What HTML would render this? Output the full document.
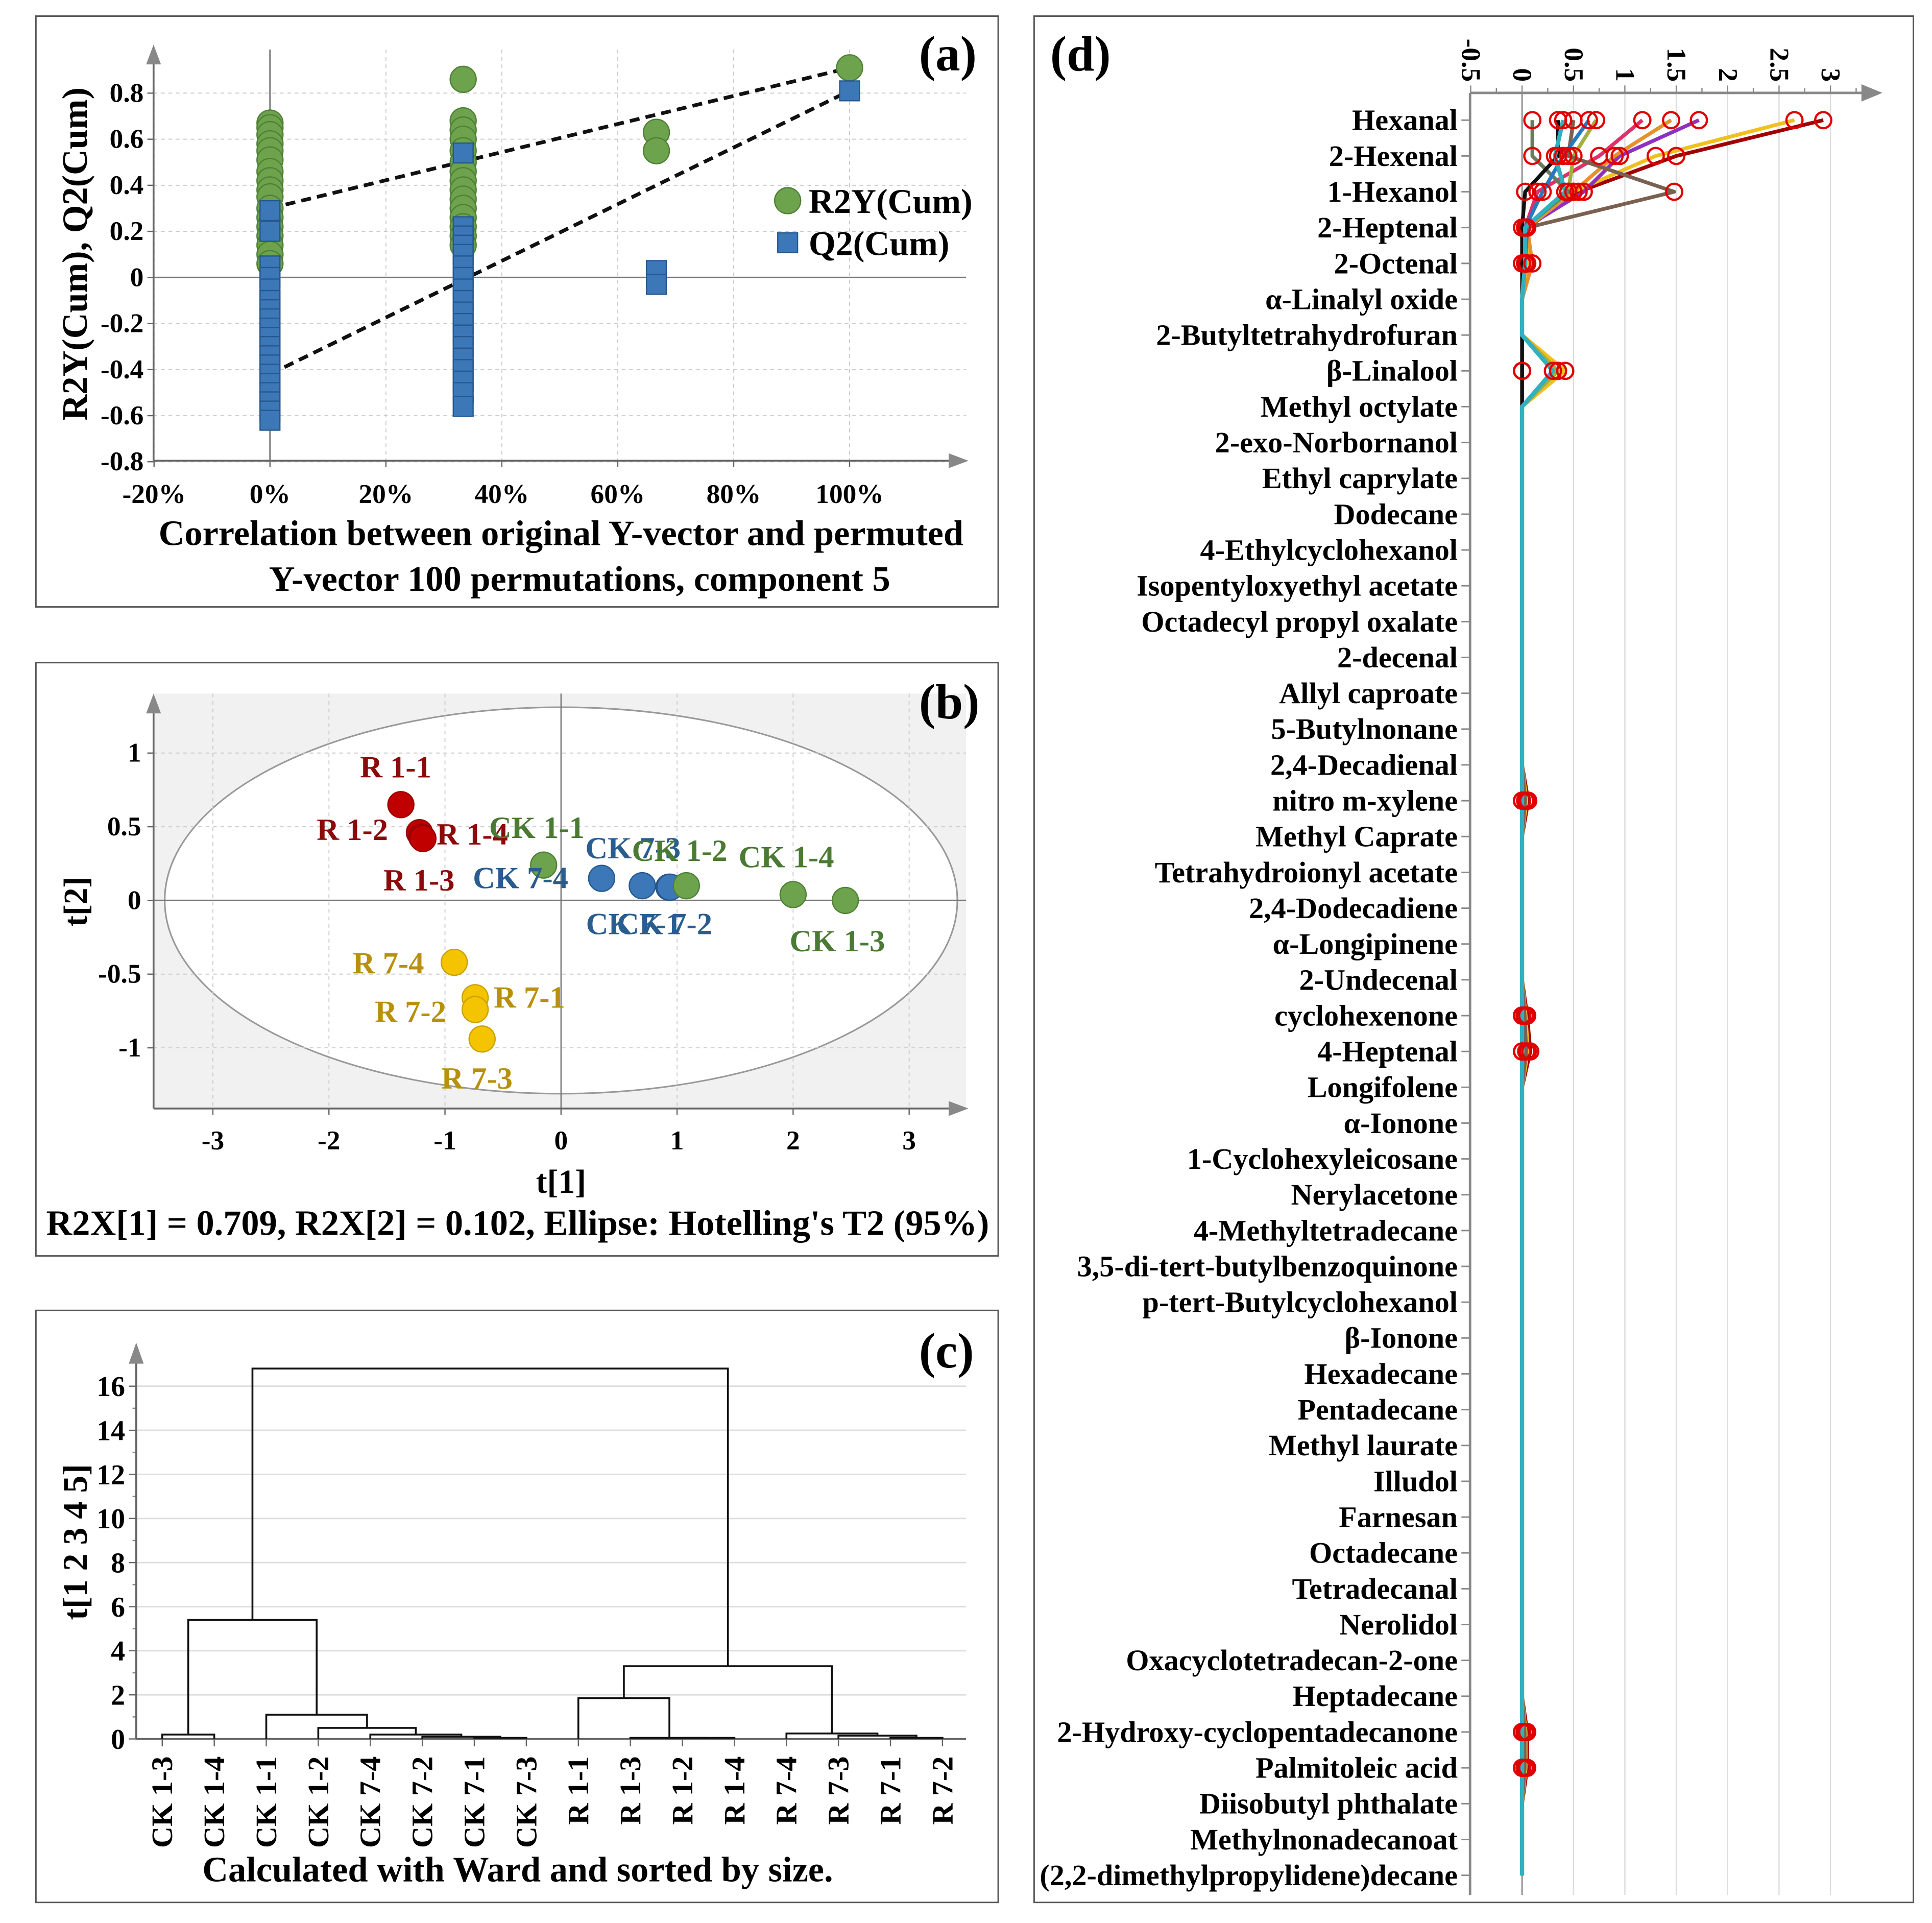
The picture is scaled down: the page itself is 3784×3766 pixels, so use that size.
<!DOCTYPE html>
<html><head><meta charset="utf-8"><style>
html,body{margin:0;padding:0;background:#fff;}
svg{display:block;}
text{font-family:"Liberation Serif",serif;font-weight:bold;}
</style></head><body>
<svg id="fig" width="3784" height="3766" viewBox="0 0 1560 1552.6" preserveAspectRatio="none" xmlns="http://www.w3.org/2000/svg">
<rect x="0" y="0" width="1560" height="1553" fill="#fff"/>
<g id="pa"></g>
<g id="pb"></g>
<g id="pc"></g>
<g id="pd"></g>
</svg>
<script>
// ---------- Panel A data ----------
const r2yX0 = [0.67,0.65,0.62,0.58,0.55,0.51,0.46,0.42,0.38,0.35,0.3,0.26,0.22,0.18,0.14,0.1,0.06];
const r2yX33 = [0.86,0.68,0.64,0.6,0.55,0.5,0.46,0.42,0.38,0.34,0.3,0.26,0.22,0.18,0.14];
const r2yX67 = [0.63,0.55];
const r2yX100 = [0.91];
const q2X0 = [0.29,0.2,0.05,0.0,-0.05,-0.1,-0.14,-0.18,-0.22,-0.26,-0.3,-0.34,-0.38,-0.42,-0.46,-0.5,-0.54,-0.58,-0.62];
const q2X33 = [0.54,0.22,0.18,0.14,0.1,0.05,0.0,-0.05,-0.1,-0.15,-0.2,-0.25,-0.3,-0.35,-0.4,-0.45,-0.5,-0.56];
const q2X67 = [0.03,-0.03];
const q2X100 = [0.81];
const r2yIntercept = 0.30, q2Intercept = -0.42;
const aXTicks = [-0.2,0,0.2,0.4,0.6,0.8,1.0];
const aXTickLabels = ["-20%","0%","20%","40%","60%","80%","100%"];
const aYTicks = [-0.8,-0.6,-0.4,-0.2,0,0.2,0.4,0.6,0.8];
const aYTickLabels = ["-0.8","-0.6","-0.4","-0.2","0","0.2","0.4","0.6","0.8"];

// ---------- Panel B data ----------
const bLabels = ["R 1-1","R 1-2","R 1-4","R 1-3","CK 1-1","CK 7-4","CK 7-3","CK 7-1","CK 7-2","CK 1-2","CK 1-4","CK 1-3","R 7-4","R 7-1","R 7-2","R 7-3"];
const bT1 = [-1.38,-1.22,-1.2,-1.19,-0.15,0.35,0.7,0.93,0.94,1.08,2.0,2.45,-0.92,-0.74,-0.74,-0.68];
const bT2 = [0.65,0.46,0.43,0.42,0.24,0.15,0.10,0.09,0.09,0.10,0.04,0.0,-0.42,-0.66,-0.74,-0.94];
const bGroup = ["R1","R1","R1","R1","CK1","CK7","CK7","CK7","CK7","CK1","CK1","CK1","R7","R7","R7","R7"];
const bXTicks = [-3,-2,-1,0,1,2,3];
const bYTicks = [-1,-0.5,0,0.5,1];
const bYTickLabels = ["-1","-0.5","0","0.5","1"];

// ---------- Panel C data ----------
const cLeaves = ["CK 1-3","CK 1-4","CK 1-1","CK 1-2","CK 7-4","CK 7-2","CK 7-1","CK 7-3","R 1-1","R 1-3","R 1-2","R 1-4","R 7-4","R 7-3","R 7-1","R 7-2"];
// merges: [childA, childB, height]; nodes 0-15 leaves, 16+ merges in order
const cMergeA = [0,6,5,4,3,2,16,10,9,8,14,13,12,25,22];
const cMergeB = [1,7,17,18,19,20,21,11,23,24,15,26,27,28,29];
const cHeights = [0.2,0.05,0.1,0.2,0.5,1.1,5.4,0.05,0.05,1.85,0.05,0.15,0.25,3.3,16.8];
const cYTicks = [0,2,4,6,8,10,12,14,16];

// ---------- Panel D data ----------
const dCats = ["Hexanal","2-Hexenal","1-Hexanol","2-Heptenal","2-Octenal","α-Linalyl oxide","2-Butyltetrahydrofuran","β-Linalool","Methyl octylate","2-exo-Norbornanol","Ethyl caprylate","Dodecane","4-Ethylcyclohexanol","Isopentyloxyethyl acetate","Octadecyl propyl oxalate","2-decenal","Allyl caproate","5-Butylnonane","2,4-Decadienal","nitro m-xylene","Methyl Caprate","Tetrahydroionyl acetate","2,4-Dodecadiene","α-Longipinene","2-Undecenal","cyclohexenone","4-Heptenal","Longifolene","α-Ionone","1-Cyclohexyleicosane","Nerylacetone","4-Methyltetradecane","3,5-di-tert-butylbenzoquinone","p-tert-Butylcyclohexanol","β-Ionone","Hexadecane","Pentadecane","Methyl laurate","Illudol","Farnesan","Octadecane","Tetradecanal","Nerolidol","Oxacyclotetradecan-2-one","Heptadecane","2-Hydroxy-cyclopentadecanone","Palmitoleic acid","Diisobutyl phthalate","Methylnonadecanoat","(2,2-dimethylpropylidene)decane"];
const dTicks = [-0.5,0,0.5,1,1.5,2,2.5,3];
const dTickLabels = ["-0.5","0","0.5","1","1.5","2","2.5","3"];
const dColors = ["#a00000","#f0c020","#9030c0","#e8902a","#e0306a","#a0b040","#7a6050","#6a7a60","#2878c0","#111111","#30b0c0"];
const dSeriesHead = [
 [2.93,1.5,0.55,0.05,0.05],
 [2.65,1.3,0.5,0.05,0.05,0,0,0.42],
 [1.72,0.95,0.6,0.03,0.03],
 [1.45,0.9,0.5,0.05,0.1],
 [1.17,0.75,0.15,0.03,0.03],
 [0.72,0.5,0.45,0.05,0.03,0,0,0.35],
 [0.5,0.45,1.48,0.05,0.03],
 [0.1,0.1,0.45,0.03,0.03],
 [0.65,0.4,0.2,0.03,0.03],
 [0.35,0.35,0.03,0.0,0.0],
 [0.4,0.32,0.42,0.03,0.03,0,0,0.3]
];
const dExtraRows = [19,25,26,45,46];
const dExtraVals = [0.06,0.05,0.08,0.05,0.05];

const NS="http://www.w3.org/2000/svg";
function mk(parent, tag, attrs, txt){
  const e=document.createElementNS(NS,tag);
  for(const k in attrs) e.setAttribute(k,attrs[k]);
  if(txt!==undefined) e.textContent=txt;
  parent.appendChild(e); return e;
}

// ================= PANEL A =================
(function(){
  const g=document.getElementById('pa');
  const X0=124,X1=780,Y0=372;
  const xs=v=>218+(v)*468;
  const ys=v=>224-v*186;
  let e=mk(g,'rect',{x:29,y:13,width:777,height:477,fill:'none',stroke:'#555','stroke-width':1.2});
  
  
  aXTicks.forEach(t=>{ if(t!==0){ e=mk(g,'line',{x1:xs(t),x2:xs(t),y1:40,y2:Y0,stroke:'#ccc','stroke-dasharray':'3,3','stroke-width':0.8});
    
    }});
  aYTicks.forEach(t=>{ if(t!==0){ e=mk(g,'line',{x1:X0,x2:X1,y1:ys(t),y2:ys(t),stroke:'#ccc','stroke-dasharray':'3,3','stroke-width':0.8});
    
    }});
  e=mk(g,'line',{x1:X0,x2:X1,y1:ys(0),y2:ys(0),stroke:'#777','stroke-width':1.2});
  
  
  e=mk(g,'line',{x1:xs(0),x2:xs(0),y1:40,y2:Y0,stroke:'#777','stroke-width':1.2});
  
  
  e=mk(g,'path',{d:`M${X0} ${Y0} H${X1-6} M${X0} ${Y0} V46`,stroke:'#666','stroke-width':1.5,fill:'none'});
  
  
  e=mk(g,'path',{d:`M${X1+2} ${Y0} l-16 -6 v12 z M${X0} 36 l-6 16 h12 z`,fill:'#888'});
  
  
  aXTicks.forEach((t,i)=>{ mk(g,'line',{x1:xs(t),x2:xs(t),y1:Y0,y2:Y0+5,stroke:'#666'});
    e=mk(g,'text',{x:xs(t),y:Y0+34,'font-size':22,'text-anchor':'middle'},aXTickLabels[i]);
    
    });
  aYTicks.forEach((t,i)=>{ mk(g,'line',{x1:X0-5,x2:X0,y1:ys(t),y2:ys(t),stroke:'#666'});
    e=mk(g,'text',{x:X0-8,y:ys(t)+7,'font-size':22,'text-anchor':'end'},aYTickLabels[i]);
    
    });
  e=mk(g,'line',{x1:xs(0),y1:ys(r2yIntercept),x2:xs(1),y2:ys(r2yX100[0]),stroke:'#111','stroke-width':3,'stroke-dasharray':'8,5'});
  
  
  e=mk(g,'line',{x1:xs(0),y1:ys(q2Intercept),x2:xs(1),y2:ys(q2X100[0]),stroke:'#111','stroke-width':3,'stroke-dasharray':'8,5'});
  
  
  const rs=[[0,r2yX0],[1/3,r2yX33],[2/3,r2yX67],[1,r2yX100]];
  rs.forEach(([x,arr])=>arr.forEach(v=>{
    e=mk(g,'circle',{cx:xs(x),cy:ys(v),r:10.5,fill:'#6da34d',stroke:'#4f7f35','stroke-width':1});
    
    }));
  const qs=[[0,q2X0],[1/3,q2X33],[2/3,q2X67],[1,q2X100]];
  qs.forEach(([x,arr])=>arr.forEach(v=>{
    e=mk(g,'rect',{x:xs(x)-8,y:ys(v)-8,width:16,height:16,fill:'#3c78b8',stroke:'#26588e','stroke-width':1});
    
    }));
  e=mk(g,'circle',{cx:636,cy:162,r:10.5,fill:'#6da34d',stroke:'#4f7f35'});
  
  
  e=mk(g,'text',{x:653,y:172,'font-size':28},'R2Y(Cum)');
  
  
  e=mk(g,'rect',{x:628,y:188,width:16,height:16,fill:'#3c78b8',stroke:'#26588e'});
  
  
  e=mk(g,'text',{x:653,y:206,'font-size':28},'Q2(Cum)');
  
  
  e=mk(g,'text',{x:742,y:57,'font-size':40,'font-weight':'normal'},'(a)');
  
  
  e=mk(g,'text',{x:0,y:0,'font-size':29,'text-anchor':'middle',transform:'translate(70,205) rotate(-90)'},'R2Y(Cum), Q2(Cum)');
  
  
  e=mk(g,'text',{x:453,y:440,'font-size':29,'text-anchor':'middle'},'Correlation between original Y-vector and permuted');
  
  
  e=mk(g,'text',{x:468,y:477,'font-size':29,'text-anchor':'middle'},'Y-vector 100 permutations, component 5');
  
  
})();

// ================= PANEL B =================
(function(){
  const g=document.getElementById('pb');
  const X0=124,X1=780,Y0=895,YT=560;
  const xs=v=>453+v*93.7;
  const ys=v=>727-v*119;
  let e=mk(g,'rect',{x:29,y:535,width:777,height:479,fill:'none',stroke:'#555','stroke-width':1.2});
  
  
  e=mk(g,'rect',{x:X0,y:YT,width:X1-X0,height:Y0-YT,fill:'#f1f1f1'});
  
  
  e=mk(g,'ellipse',{cx:xs(0),cy:ys(0),rx:320,ry:156,fill:'#fff',stroke:'#999','stroke-width':1.3});
  
  
  bXTicks.forEach(t=>{ if(t!==0){e=mk(g,'line',{x1:xs(t),x2:xs(t),y1:YT,y2:Y0,stroke:'#ccc','stroke-dasharray':'3,3','stroke-width':0.8});
    
    }});
  bYTicks.forEach(t=>{ if(t!==0){e=mk(g,'line',{x1:X0,x2:X1,y1:ys(t),y2:ys(t),stroke:'#ccc','stroke-dasharray':'3,3','stroke-width':0.8});
    
    }});
  e=mk(g,'line',{x1:X0,x2:X1,y1:ys(0),y2:ys(0),stroke:'#777','stroke-width':1.3});
  
  
  e=mk(g,'line',{x1:xs(0),x2:xs(0),y1:YT,y2:Y0,stroke:'#777','stroke-width':1});
  
  
  e=mk(g,'path',{d:`M${X0} ${Y0} H${X1-6} M${X0} ${Y0} V570`,stroke:'#666','stroke-width':1.5,fill:'none'});
  
  
  e=mk(g,'path',{d:`M${X1+2} ${Y0} l-16 -6 v12 z M${X0} 560 l-6 16 h12 z`,fill:'#888'});
  
  
  bXTicks.forEach(t=>{ mk(g,'line',{x1:xs(t),x2:xs(t),y1:Y0,y2:Y0+5,stroke:'#666'});
    e=mk(g,'text',{x:xs(t),y:Y0+33,'font-size':22,'text-anchor':'middle'},String(t));
    
    });
  bYTicks.forEach((t,i)=>{ mk(g,'line',{x1:X0-5,x2:X0,y1:ys(t),y2:ys(t),stroke:'#666'});
    e=mk(g,'text',{x:X0-10,y:ys(t)+7,'font-size':22,'text-anchor':'end'},bYTickLabels[i]);
    
    });
  const fill={R1:'#c00000',CK1:'#6da34d',CK7:'#3c78b8',R7:'#f5c400'};
  const strk={R1:'#900',CK1:'#4f7f35',CK7:'#26588e',R7:'#c9a000'};
  const tcol={R1:'#8b0a0a',CK1:'#4a7a34',CK7:'#2a5d8f',R7:'#b8900c'};
  const ldx=[-33,-83,12,-32,-44,-104,-46,-67,-43,-44,-44,-45,-82,15,-81,-33];
  const ldy=[-22,6,6,42,-22,8,-22,38,38,-20,-22,41,9,8,10,40];
  bLabels.forEach((l,i)=>{
    e=mk(g,'circle',{cx:xs(bT1[i]),cy:ys(bT2[i]),r:10.5,fill:fill[bGroup[i]],stroke:strk[bGroup[i]],'stroke-width':1});
    
    
  });
  bLabels.forEach((l,i)=>{
    e=mk(g,'text',{x:xs(bT1[i])+ldx[i],y:ys(bT2[i])+ldy[i],'font-size':25,fill:tcol[bGroup[i]]},l);
    
    
  });
  e=mk(g,'text',{x:742,y:580,'font-size':40,'font-weight':'normal'},'(b)');
  
  
  e=mk(g,'text',{x:0,y:0,'font-size':27,'text-anchor':'middle',transform:'translate(70,728) rotate(-90)'},'t[2]');
  
  
  e=mk(g,'text',{x:453,y:963,'font-size':27,'text-anchor':'middle'},'t[1]');
  
  
  e=mk(g,'text',{x:418,y:997,'font-size':29,'text-anchor':'middle'},"R2X[1] = 0.709, R2X[2] = 0.102, Ellipse: Hotelling's T2 (95%)");
  
  
})();

// ================= PANEL C =================
(function(){
  const g=document.getElementById('pc');
  const X0=110,X1=780,Y0=1404;
  const ys=v=>Y0-v*17.8;
  const xl=i=>131+i*42;
  let e=mk(g,'rect',{x:29,y:1058,width:777,height:478,fill:'none',stroke:'#555','stroke-width':1.2});
  
  
  cYTicks.forEach(t=>{ if(t>0){e=mk(g,'line',{x1:X0,x2:X1,y1:ys(t),y2:ys(t),stroke:'#ddd','stroke-width':1.2});
    
    }
    mk(g,'line',{x1:X0-6,x2:X0,y1:ys(t),y2:ys(t),stroke:'#666'});
    if(t<16) mk(g,'line',{x1:X0-3,x2:X0,y1:ys(t+1),y2:ys(t+1),stroke:'#888'});
    e=mk(g,'text',{x:X0-9,y:ys(t)+8,'font-size':23,'text-anchor':'end'},String(t));
    
    });
  e=mk(g,'path',{d:`M${X0} ${Y0} H${X1} M${X0} ${Y0} V1098`,stroke:'#666','stroke-width':1.5,fill:'none'});
  
  
  e=mk(g,'path',{d:`M${X0} 1084 l-6 17 h12 z`,fill:'#888'});
  
  
  const nx=[],nh=[];
  cLeaves.forEach((l,i)=>{nx.push(xl(i));nh.push(0);
    mk(g,'line',{x1:xl(i),x2:xl(i),y1:Y0,y2:Y0+6,stroke:'#666'});
    e=mk(g,'text',{x:0,y:0,'font-size':24,'text-anchor':'end',transform:`translate(${xl(i)+8},${Y0+14}) rotate(-90)`},l);
    
    });
  cHeights.forEach((h,k)=>{
    const a=cMergeA[k],b=cMergeB[k];
    const d=`M${nx[a]} ${ys(nh[a])} V${ys(h)} H${nx[b]} V${ys(nh[b])}`;
    e=mk(g,'path',{d:d,fill:'none',stroke:'#111','stroke-width':1.5});
    
    
    nx.push((nx[a]+nx[b])/2); nh.push(h);
  });
  e=mk(g,'text',{x:742,y:1104,'font-size':40,'font-weight':'normal'},'(c)');
  
  
  e=mk(g,'text',{x:0,y:0,'font-size':28,'text-anchor':'middle',transform:'translate(70,1245) rotate(-90)'},'t[1 2 3 4 5]');
  
  
  e=mk(g,'text',{x:418,y:1519,'font-size':29,'text-anchor':'middle'},'Calculated with Ward and sorted by size.');
  
  
})();

// ================= PANEL D =================
(function(){
  const g=document.getElementById('pd');
  const XA=1187,XE=1515,YA=75,YB=1530;
  const xs=v=>1229+v*83;
  const ys=i=>97+i*28.92;
  let e=mk(g,'rect',{x:835,y:13,width:710,height:1523,fill:'none',stroke:'#555','stroke-width':1.2});
  
  
  dTicks.forEach((t,i)=>{
    if(t>0){e=mk(g,'line',{x1:xs(t),x2:xs(t),y1:YA,y2:YB,stroke:'#ddd','stroke-width':1});
      
      }
    mk(g,'line',{x1:xs(t),x2:xs(t),y1:YA-6,y2:YA,stroke:'#888'});
    mk(g,'line',{x1:xs(t+0.25),x2:xs(t+0.25),y1:YA-4,y2:YA,stroke:'#888'});
    e=mk(g,'text',{x:0,y:0,'font-size':22,'text-anchor':'end',transform:`translate(${xs(t)-7},${YA-9}) rotate(90)`},dTickLabels[i]);
    
    
  });
  e=mk(g,'line',{x1:xs(0),x2:xs(0),y1:YA,y2:YB,stroke:'#777','stroke-width':1});
  
  
  e=mk(g,'path',{d:`M${XA} ${YA} H${XE-6} M${XA} ${YA} V${YB}`,stroke:'#888','stroke-width':2,fill:'none'});
  
  
  e=mk(g,'path',{d:`M${XE+5} ${YA} l-17 -7 v14 z`,fill:'#888'});
  
  
  const clip=mk(g,'clipPath',{id:'dclip'}); mk(clip,'rect',{x:836,y:14,width:708,height:1520});
  const lab=mk(g,'g',{'clip-path':'url(#dclip)'});
  dCats.forEach((c,i)=>{
    mk(g,'line',{x1:XA-7,x2:XA,y1:ys(i),y2:ys(i),stroke:'#888','stroke-width':1.2});
    e=mk(lab,'text',{x:XA-10,y:ys(i)+8,'font-size':24,'text-anchor':'end'},c);
    
    
  });
  const full=dSeriesHead.map(h=>dCats.map((c,i)=>i<h.length?h[i]:0));
  dExtraRows.forEach((r,k)=>{ full[0][r]=dExtraVals[k]; full[1][r]=dExtraVals[k]*0.7; full[6][r]=dExtraVals[k]*0.5; });
  full.forEach((vals,s)=>{
    const d=vals.map((v,i)=>(i?'L':'M')+xs(v)+' '+ys(i)).join(' ');
    e=mk(g,'path',{d:d,fill:'none',stroke:dColors[s],'stroke-width':s===10?3.4:3,'stroke-linejoin':'round'});
    
    
  });
  const activeRow=dCats.map((c,i)=>full.some(v=>Math.abs(v[i])>0.02));
  full.forEach((vals,s)=>vals.forEach((v,i)=>{ if(activeRow[i]){
    e=mk(g,'circle',{cx:xs(v),cy:ys(i),r:6.5,fill:'none',stroke:'#e00000','stroke-width':1.8});
    
    }}));
  e=mk(g,'text',{x:848,y:57,'font-size':40,'font-weight':'normal'},'(d)');
  
  
})();
</script>
</body></html>
